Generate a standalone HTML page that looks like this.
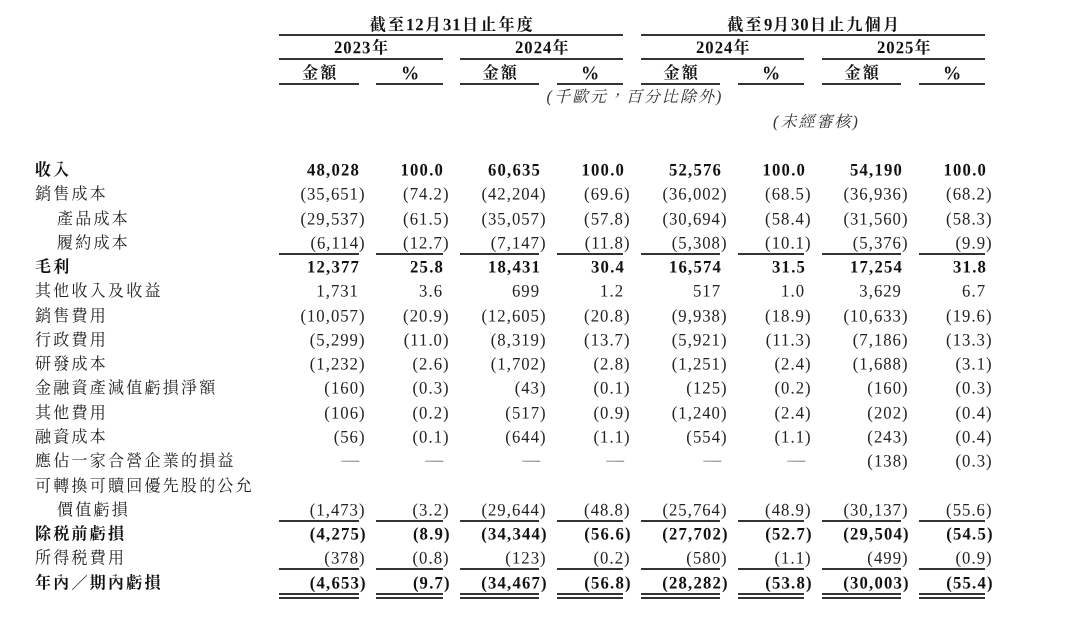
<!DOCTYPE html><html lang="zh-Hant"><head><meta charset="utf-8"><title>table</title><style>
html,body{margin:0;padding:0;background:#fff;}
body{width:1080px;height:617px;position:relative;overflow:hidden;
 font-family:"Liberation Serif","Noto Serif CJK SC",serif;font-size:16.7px;color:#222;
 line-height:24px;-webkit-font-smoothing:antialiased;}
#w{position:absolute;left:0;top:0;width:1080px;height:617px;will-change:transform;filter:blur(0.35px);}
.r{position:absolute;left:0;width:1080px;height:24px;white-space:nowrap;}
.b{font-weight:bold;color:#111;}
.l{position:absolute;left:34.9px;top:0px;letter-spacing:2.25px;font-size:16.0px;}
.l.i{left:56.9px;}
.n{position:absolute;top:0px;text-align:right;letter-spacing:1.02px;width:120px;transform:rotate(0.03deg) scaleY(1.05);transform-origin:50% 6px;}
.b .l{top:0px;}
.b .n{top:0px;margin-left:0.5px;letter-spacing:1.17px;}
.cp{display:inline-block;width:0;}
.n.d{color:#777;letter-spacing:0;font-size:17.8px;top:-2.4px;}
.h{position:absolute;text-align:center;font-weight:bold;color:#111;white-space:nowrap;height:24px;letter-spacing:1.02px;}
.h .e{display:inline-block;transform:rotate(0.03deg) scaleY(1.05);transform-origin:50% 60%;}
.h .pc{font-size:18.2px;letter-spacing:0;position:relative;left:-1.2px;}
.h .c{letter-spacing:2.25px;font-size:16.0px;}
.it{position:absolute;text-align:center;font-style:italic;white-space:nowrap;height:24px;letter-spacing:2.0px;font-size:16.0px;color:#333;}
.ln{position:absolute;height:2.0px;background:#333;}
</style></head><body><div id="w">
<div class="h" style="left:280.3px;width:344px;top:12.80px"><span class="c">截至</span><span class="e">12</span><span class="c">月</span><span class="e">31</span><span class="c">日止年度</span></div>
<div class="h" style="left:642.3px;width:344px;top:12.80px"><span class="c">截至</span><span class="e">9</span><span class="c">月</span><span class="e">30</span><span class="c">日止九個月</span></div>
<div class="ln" style="left:279px;width:344px;top:34.05px"></div>
<div class="ln" style="left:641px;width:344px;top:34.05px"></div>
<div class="h" style="left:280.3px;width:164px;top:36.40px"><span class="e">2023</span><span class="c">年</span></div>
<div class="ln" style="left:279px;width:164px;top:58.35px"></div>
<div class="h" style="left:461.3px;width:163px;top:36.40px"><span class="e">2024</span><span class="c">年</span></div>
<div class="ln" style="left:460px;width:163px;top:58.35px"></div>
<div class="h" style="left:642.3px;width:163px;top:36.40px"><span class="e">2024</span><span class="c">年</span></div>
<div class="ln" style="left:641px;width:163px;top:58.35px"></div>
<div class="h" style="left:823.3px;width:163px;top:36.40px"><span class="e">2025</span><span class="c">年</span></div>
<div class="ln" style="left:822px;width:163px;top:58.35px"></div>
<div class="h" style="left:280.3px;width:80px;top:60.50px"><span class="c">金額</span></div>
<div class="ln" style="left:279px;width:80px;top:82.80px"></div>
<div class="h" style="left:377.3px;width:67px;top:60.50px"><span class="e pc">%</span></div>
<div class="ln" style="left:376px;width:67px;top:82.80px"></div>
<div class="h" style="left:461.3px;width:79px;top:60.50px"><span class="c">金額</span></div>
<div class="ln" style="left:460px;width:79px;top:82.80px"></div>
<div class="h" style="left:558.3px;width:66px;top:60.50px"><span class="e pc">%</span></div>
<div class="ln" style="left:557px;width:66px;top:82.80px"></div>
<div class="h" style="left:642.3px;width:79px;top:60.50px"><span class="c">金額</span></div>
<div class="ln" style="left:641px;width:79px;top:82.80px"></div>
<div class="h" style="left:739.3px;width:66px;top:60.50px"><span class="e pc">%</span></div>
<div class="ln" style="left:738px;width:66px;top:82.80px"></div>
<div class="h" style="left:823.3px;width:79px;top:60.50px"><span class="c">金額</span></div>
<div class="ln" style="left:822px;width:79px;top:82.80px"></div>
<div class="h" style="left:920.3px;width:66px;top:60.50px"><span class="e pc">%</span></div>
<div class="ln" style="left:919px;width:66px;top:82.80px"></div>
<div class="it" style="left:281.9px;width:706px;top:85.00px">(千歐元，百分比除外)</div>
<div class="it" style="left:644.4px;width:344px;top:109.50px">(未經審核)</div>
<div class="r b" style="top:158.00px"><span class="l">收入</span><span class="n" style="left:239.32px">48,028</span><span class="n" style="left:323.32px">100.0</span><span class="n" style="left:420.12px">60,635</span><span class="n" style="left:504.12px">100.0</span><span class="n" style="left:601.12px">52,576</span><span class="n" style="left:685.12px">100.0</span><span class="n" style="left:782.12px">54,190</span><span class="n" style="left:866.12px">100.0</span></div>
<div class="r" style="top:182.00px"><span class="l">銷售成本</span><span class="n" style="left:239.32px">(35,651<span class="cp">)</span></span><span class="n" style="left:323.32px">(74.2<span class="cp">)</span></span><span class="n" style="left:420.12px">(42,204<span class="cp">)</span></span><span class="n" style="left:504.12px">(69.6<span class="cp">)</span></span><span class="n" style="left:601.12px">(36,002<span class="cp">)</span></span><span class="n" style="left:685.12px">(68.5<span class="cp">)</span></span><span class="n" style="left:782.12px">(36,936<span class="cp">)</span></span><span class="n" style="left:866.12px">(68.2<span class="cp">)</span></span></div>
<div class="r" style="top:207.00px"><span class="l i">產品成本</span><span class="n" style="left:239.32px">(29,537<span class="cp">)</span></span><span class="n" style="left:323.32px">(61.5<span class="cp">)</span></span><span class="n" style="left:420.12px">(35,057<span class="cp">)</span></span><span class="n" style="left:504.12px">(57.8<span class="cp">)</span></span><span class="n" style="left:601.12px">(30,694<span class="cp">)</span></span><span class="n" style="left:685.12px">(58.4<span class="cp">)</span></span><span class="n" style="left:782.12px">(31,560<span class="cp">)</span></span><span class="n" style="left:866.12px">(58.3<span class="cp">)</span></span></div>
<div class="r" style="top:231.00px"><span class="l i">履約成本</span><span class="n" style="left:239.32px">(6,114<span class="cp">)</span></span><span class="n" style="left:323.32px">(12.7<span class="cp">)</span></span><span class="n" style="left:420.12px">(7,147<span class="cp">)</span></span><span class="n" style="left:504.12px">(11.8<span class="cp">)</span></span><span class="n" style="left:601.12px">(5,308<span class="cp">)</span></span><span class="n" style="left:685.12px">(10.1<span class="cp">)</span></span><span class="n" style="left:782.12px">(5,376<span class="cp">)</span></span><span class="n" style="left:866.12px">(9.9<span class="cp">)</span></span></div>
<div class="ln" style="left:279px;width:80px;top:252.56px"></div>
<div class="ln" style="left:376px;width:67px;top:252.56px"></div>
<div class="ln" style="left:460px;width:79px;top:252.56px"></div>
<div class="ln" style="left:557px;width:66px;top:252.56px"></div>
<div class="ln" style="left:641px;width:79px;top:252.56px"></div>
<div class="ln" style="left:738px;width:66px;top:252.56px"></div>
<div class="ln" style="left:822px;width:79px;top:252.56px"></div>
<div class="ln" style="left:919px;width:66px;top:252.56px"></div>
<div class="r b" style="top:255.00px"><span class="l">毛利</span><span class="n" style="left:239.32px">12,377</span><span class="n" style="left:323.32px">25.8</span><span class="n" style="left:420.12px">18,431</span><span class="n" style="left:504.12px">30.4</span><span class="n" style="left:601.12px">16,574</span><span class="n" style="left:685.12px">31.5</span><span class="n" style="left:782.12px">17,254</span><span class="n" style="left:866.12px">31.8</span></div>
<div class="r" style="top:279.00px"><span class="l">其他收入及收益</span><span class="n" style="left:239.32px">1,731</span><span class="n" style="left:323.32px">3.6</span><span class="n" style="left:420.12px">699</span><span class="n" style="left:504.12px">1.2</span><span class="n" style="left:601.12px">517</span><span class="n" style="left:685.12px">1.0</span><span class="n" style="left:782.12px">3,629</span><span class="n" style="left:866.12px">6.7</span></div>
<div class="r" style="top:304.00px"><span class="l">銷售費用</span><span class="n" style="left:239.32px">(10,057<span class="cp">)</span></span><span class="n" style="left:323.32px">(20.9<span class="cp">)</span></span><span class="n" style="left:420.12px">(12,605<span class="cp">)</span></span><span class="n" style="left:504.12px">(20.8<span class="cp">)</span></span><span class="n" style="left:601.12px">(9,938<span class="cp">)</span></span><span class="n" style="left:685.12px">(18.9<span class="cp">)</span></span><span class="n" style="left:782.12px">(10,633<span class="cp">)</span></span><span class="n" style="left:866.12px">(19.6<span class="cp">)</span></span></div>
<div class="r" style="top:328.00px"><span class="l">行政費用</span><span class="n" style="left:239.32px">(5,299<span class="cp">)</span></span><span class="n" style="left:323.32px">(11.0<span class="cp">)</span></span><span class="n" style="left:420.12px">(8,319<span class="cp">)</span></span><span class="n" style="left:504.12px">(13.7<span class="cp">)</span></span><span class="n" style="left:601.12px">(5,921<span class="cp">)</span></span><span class="n" style="left:685.12px">(11.3<span class="cp">)</span></span><span class="n" style="left:782.12px">(7,186<span class="cp">)</span></span><span class="n" style="left:866.12px">(13.3<span class="cp">)</span></span></div>
<div class="r" style="top:352.00px"><span class="l">研發成本</span><span class="n" style="left:239.32px">(1,232<span class="cp">)</span></span><span class="n" style="left:323.32px">(2.6<span class="cp">)</span></span><span class="n" style="left:420.12px">(1,702<span class="cp">)</span></span><span class="n" style="left:504.12px">(2.8<span class="cp">)</span></span><span class="n" style="left:601.12px">(1,251<span class="cp">)</span></span><span class="n" style="left:685.12px">(2.4<span class="cp">)</span></span><span class="n" style="left:782.12px">(1,688<span class="cp">)</span></span><span class="n" style="left:866.12px">(3.1<span class="cp">)</span></span></div>
<div class="r" style="top:376.00px"><span class="l">金融資產減值虧損淨額</span><span class="n" style="left:239.32px">(160<span class="cp">)</span></span><span class="n" style="left:323.32px">(0.3<span class="cp">)</span></span><span class="n" style="left:420.12px">(43<span class="cp">)</span></span><span class="n" style="left:504.12px">(0.1<span class="cp">)</span></span><span class="n" style="left:601.12px">(125<span class="cp">)</span></span><span class="n" style="left:685.12px">(0.2<span class="cp">)</span></span><span class="n" style="left:782.12px">(160<span class="cp">)</span></span><span class="n" style="left:866.12px">(0.3<span class="cp">)</span></span></div>
<div class="r" style="top:401.00px"><span class="l">其他費用</span><span class="n" style="left:239.32px">(106<span class="cp">)</span></span><span class="n" style="left:323.32px">(0.2<span class="cp">)</span></span><span class="n" style="left:420.12px">(517<span class="cp">)</span></span><span class="n" style="left:504.12px">(0.9<span class="cp">)</span></span><span class="n" style="left:601.12px">(1,240<span class="cp">)</span></span><span class="n" style="left:685.12px">(2.4<span class="cp">)</span></span><span class="n" style="left:782.12px">(202<span class="cp">)</span></span><span class="n" style="left:866.12px">(0.4<span class="cp">)</span></span></div>
<div class="r" style="top:425.00px"><span class="l">融資成本</span><span class="n" style="left:239.32px">(56<span class="cp">)</span></span><span class="n" style="left:323.32px">(0.1<span class="cp">)</span></span><span class="n" style="left:420.12px">(644<span class="cp">)</span></span><span class="n" style="left:504.12px">(1.1<span class="cp">)</span></span><span class="n" style="left:601.12px">(554<span class="cp">)</span></span><span class="n" style="left:685.12px">(1.1<span class="cp">)</span></span><span class="n" style="left:782.12px">(243<span class="cp">)</span></span><span class="n" style="left:866.12px">(0.4<span class="cp">)</span></span></div>
<div class="r" style="top:449.00px"><span class="l">應佔一家合營企業的損益</span><span class="n d" style="left:239.10px">—</span><span class="n d" style="left:323.10px">—</span><span class="n d" style="left:419.90px">—</span><span class="n d" style="left:503.90px">—</span><span class="n d" style="left:600.90px">—</span><span class="n d" style="left:684.90px">—</span><span class="n" style="left:782.12px">(138<span class="cp">)</span></span><span class="n" style="left:866.12px">(0.3<span class="cp">)</span></span></div>
<div class="r" style="top:474.00px"><span class="l">可轉換可贖回優先股的公允</span></div>
<div class="r" style="top:498.00px"><span class="l i">價值虧損</span><span class="n" style="left:239.32px">(1,473<span class="cp">)</span></span><span class="n" style="left:323.32px">(3.2<span class="cp">)</span></span><span class="n" style="left:420.12px">(29,644<span class="cp">)</span></span><span class="n" style="left:504.12px">(48.8<span class="cp">)</span></span><span class="n" style="left:601.12px">(25,764<span class="cp">)</span></span><span class="n" style="left:685.12px">(48.9<span class="cp">)</span></span><span class="n" style="left:782.12px">(30,137<span class="cp">)</span></span><span class="n" style="left:866.12px">(55.6<span class="cp">)</span></span></div>
<div class="ln" style="left:279px;width:80px;top:519.53px"></div>
<div class="ln" style="left:376px;width:67px;top:519.53px"></div>
<div class="ln" style="left:460px;width:79px;top:519.53px"></div>
<div class="ln" style="left:557px;width:66px;top:519.53px"></div>
<div class="ln" style="left:641px;width:79px;top:519.53px"></div>
<div class="ln" style="left:738px;width:66px;top:519.53px"></div>
<div class="ln" style="left:822px;width:79px;top:519.53px"></div>
<div class="ln" style="left:919px;width:66px;top:519.53px"></div>
<div class="r b" style="top:522.00px"><span class="l">除税前虧損</span><span class="n" style="left:239.32px">(4,275<span class="cp">)</span></span><span class="n" style="left:323.32px">(8.9<span class="cp">)</span></span><span class="n" style="left:420.12px">(34,344<span class="cp">)</span></span><span class="n" style="left:504.12px">(56.6<span class="cp">)</span></span><span class="n" style="left:601.12px">(27,702<span class="cp">)</span></span><span class="n" style="left:685.12px">(52.7<span class="cp">)</span></span><span class="n" style="left:782.12px">(29,504<span class="cp">)</span></span><span class="n" style="left:866.12px">(54.5<span class="cp">)</span></span></div>
<div class="r" style="top:546.00px"><span class="l">所得税費用</span><span class="n" style="left:239.32px">(378<span class="cp">)</span></span><span class="n" style="left:323.32px">(0.8<span class="cp">)</span></span><span class="n" style="left:420.12px">(123<span class="cp">)</span></span><span class="n" style="left:504.12px">(0.2<span class="cp">)</span></span><span class="n" style="left:601.12px">(580<span class="cp">)</span></span><span class="n" style="left:685.12px">(1.1<span class="cp">)</span></span><span class="n" style="left:782.12px">(499<span class="cp">)</span></span><span class="n" style="left:866.12px">(0.9<span class="cp">)</span></span></div>
<div class="ln" style="left:279px;width:80px;top:568.07px"></div>
<div class="ln" style="left:376px;width:67px;top:568.07px"></div>
<div class="ln" style="left:460px;width:79px;top:568.07px"></div>
<div class="ln" style="left:557px;width:66px;top:568.07px"></div>
<div class="ln" style="left:641px;width:79px;top:568.07px"></div>
<div class="ln" style="left:738px;width:66px;top:568.07px"></div>
<div class="ln" style="left:822px;width:79px;top:568.07px"></div>
<div class="ln" style="left:919px;width:66px;top:568.07px"></div>
<div class="r b" style="top:571.00px"><span class="l">年內／期內虧損</span><span class="n" style="left:239.32px">(4,653<span class="cp">)</span></span><span class="n" style="left:323.32px">(9.7<span class="cp">)</span></span><span class="n" style="left:420.12px">(34,467<span class="cp">)</span></span><span class="n" style="left:504.12px">(56.8<span class="cp">)</span></span><span class="n" style="left:601.12px">(28,282<span class="cp">)</span></span><span class="n" style="left:685.12px">(53.8<span class="cp">)</span></span><span class="n" style="left:782.12px">(30,003<span class="cp">)</span></span><span class="n" style="left:866.12px">(55.4<span class="cp">)</span></span></div>
<div class="ln" style="left:279px;width:80px;top:592.69px"></div>
<div class="ln" style="left:279px;width:80px;top:596.79px"></div>
<div class="ln" style="left:376px;width:67px;top:592.69px"></div>
<div class="ln" style="left:376px;width:67px;top:596.79px"></div>
<div class="ln" style="left:460px;width:79px;top:592.69px"></div>
<div class="ln" style="left:460px;width:79px;top:596.79px"></div>
<div class="ln" style="left:557px;width:66px;top:592.69px"></div>
<div class="ln" style="left:557px;width:66px;top:596.79px"></div>
<div class="ln" style="left:641px;width:79px;top:592.69px"></div>
<div class="ln" style="left:641px;width:79px;top:596.79px"></div>
<div class="ln" style="left:738px;width:66px;top:592.69px"></div>
<div class="ln" style="left:738px;width:66px;top:596.79px"></div>
<div class="ln" style="left:822px;width:79px;top:592.69px"></div>
<div class="ln" style="left:822px;width:79px;top:596.79px"></div>
<div class="ln" style="left:919px;width:66px;top:592.69px"></div>
<div class="ln" style="left:919px;width:66px;top:596.79px"></div>
</div></body></html>
